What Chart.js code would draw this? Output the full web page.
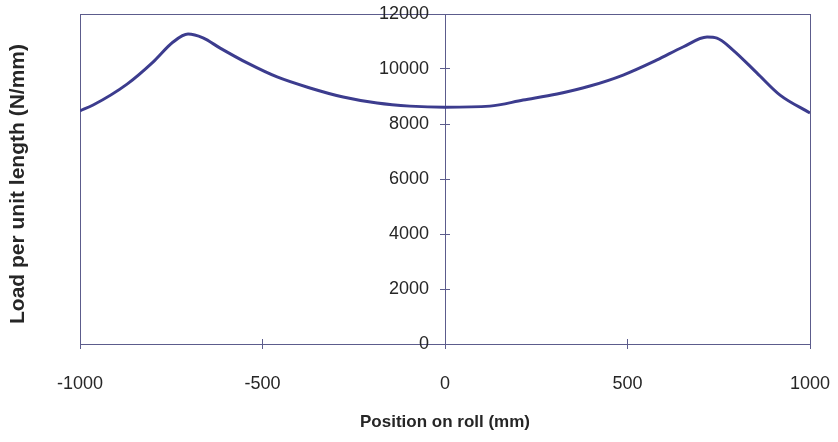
<!DOCTYPE html>
<html>
<head>
<meta charset="utf-8">
<script src="https://cdn.jsdelivr.net/npm/chart.js@4"></script>
<style>
  html, body { margin: 0; padding: 0; background: #ffffff; }
  #wrap { width: 838px; height: 442px; }
</style>
</head>
<body>
<div id="wrap"><canvas id="c" width="838" height="442"></canvas></div>
<script>
// ---- data ----
const positions = [-1000, -964, -871, -800, -745, -704, -663, -616, -542, -460, -370, -279, -186, -96, 0,
                   123, 214, 307, 397, 488, 581, 652, 718, 745, 789, 855, 918, 1000];
const loads     = [8480, 8690, 9450, 10250, 10980, 11270, 11130, 10760, 10220, 9710, 9310, 8980, 8760, 8650, 8610,
                   8650, 8870, 9090, 9380, 9780, 10330, 10800, 11160, 11120, 10690, 9850, 9050, 8400];
const xTickValues = [-1000, -500, 0, 500, 1000];
const yTickValues = [0, 2000, 4000, 6000, 8000, 10000, 12000];
const xTitle = 'Position on roll (mm)';
const yTitle = 'Load per unit length (N/mm)';

const axisColor = '#5c5c8c';
const textColor = '#262626';
const lineColor = '#3c3c8e';
const tickFont = { family: 'Arial, "Liberation Sans", sans-serif', size: 18 };
const titleFontX = { family: 'Arial, "Liberation Sans", sans-serif', size: 17, weight: 'bold' };
const titleFontY = { family: 'Arial, "Liberation Sans", sans-serif', size: 21, weight: 'bold' };

const points = positions.map((p, i) => ({ x: p, y: loads[i] }));
const plain = v => String(v);
const noPad = s => { s.paddingLeft = 0; s.paddingRight = 0; s.paddingTop = 0; s.paddingBottom = 0; };

// place the value axis where x = 0 (axis crossing in the middle of the plot)
const centerYAxis = {
  id: 'centerYAxis',
  afterLayout(chart) {
    const y = chart.scales.y;
    const px = chart.scales.x.getPixelForValue(0);
    y.left = px - 80;
    y.right = px;
    chart.scales.yTitleAxis.top += 10;
  }
};

new Chart(document.getElementById('c'), {
  type: 'scatter',
  data: {
    datasets: [{
      data: points,
      showLine: true,
      borderColor: lineColor,
      borderWidth: 3,
      pointRadius: 0,
      cubicInterpolationMode: 'monotone',
      fill: false
    }]
  },
  options: {
    responsive: false,
    animation: false,
    devicePixelRatio: 1,
    layout: { padding: { top: 14, right: 28, bottom: 0, left: 0 } },
    plugins: { legend: { display: false }, tooltip: { enabled: false } },
    scales: {
      x: {
        type: 'linear', position: 'bottom', min: -1000, max: 1000,
        afterBuildTicks: s => { s.ticks = xTickValues.map(v => ({ value: v })); },
        afterFit: s => { s.height = 98; noPad(s); },
        border: { display: true, color: axisColor, width: 1 },
        grid: {
          drawOnChartArea: true,
          color: c => (c.tick && (c.tick.value === -1000 || c.tick.value === 1000)) ? axisColor : 'rgba(0,0,0,0)',
          tickColor: axisColor, tickLength: 5, lineWidth: 1
        },
        ticks: { font: tickFont, color: textColor, padding: 24, maxRotation: 0, callback: plain },
        title: { display: true, text: xTitle, font: titleFontX, color: textColor, padding: { top: 4, bottom: 9 } }
      },
      xUp: {
        type: 'linear', position: { y: 0 }, min: -1000, max: 1000,
        afterBuildTicks: s => { s.ticks = xTickValues.slice(1, -1).map(v => ({ value: v })); },
        afterFit: s => { s.height = 0; noPad(s); },
        border: { display: false },
        grid: { drawOnChartArea: false, color: axisColor, tickColor: axisColor, tickLength: -5, lineWidth: 1 },
        ticks: { display: false }
      },
      y: {
        type: 'linear', position: 'left', min: 0, max: 12000,
        afterBuildTicks: s => { s.ticks = yTickValues.map(v => ({ value: v })); },
        afterFit: s => { s.width = 0; noPad(s); },
        border: { display: true, color: axisColor, width: 1 },
        grid: {
          drawOnChartArea: true,
          color: c => (c.tick && c.tick.value === 12000) ? axisColor : 'rgba(0,0,0,0)',
          tickColor: axisColor, tickLength: 5, lineWidth: 1
        },
        ticks: { font: tickFont, color: textColor, padding: 11, callback: plain }
      },
      yRight: {
        type: 'linear', position: { x: 0 }, min: 0, max: 12000,
        afterBuildTicks: s => { s.ticks = yTickValues.slice(1).map(v => ({ value: v })); },
        afterFit: s => { s.width = 0; noPad(s); },
        border: { display: false },
        grid: { drawOnChartArea: false, color: axisColor, tickColor: axisColor, tickLength: -5, lineWidth: 1 },
        ticks: { display: false }
      },
      yTitleAxis: {
        type: 'linear', position: 'left', min: 0, max: 12000,
        afterFit: s => { s.width = 80; noPad(s); },
        border: { display: false },
        grid: { display: false },
        ticks: { display: false },
        title: { display: true, text: yTitle, font: titleFontY, color: textColor, padding: { top: 5.5, bottom: 0 } }
      }
    }
  },
  plugins: [centerYAxis]
});
</script>
</body>
</html>
